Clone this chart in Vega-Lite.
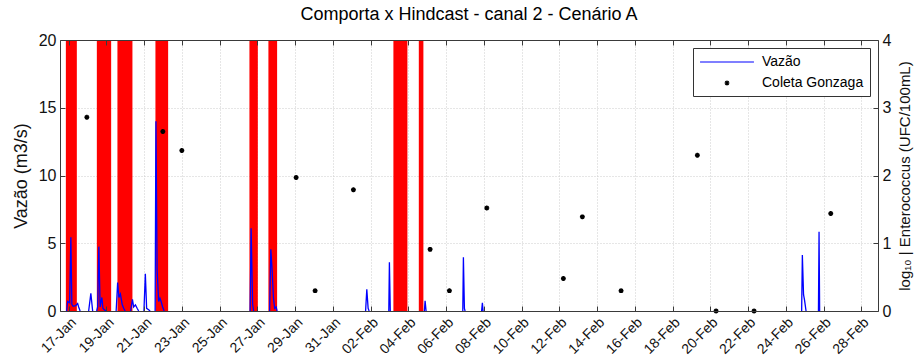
{
  "$schema": "https://vega.github.io/schema/vega-lite/v6.json",
  "width": 818,
  "height": 271,
  "autosize": {"type": "none"},
  "padding": {"left": 60, "top": 40, "right": 42, "bottom": 45},
  "background": "white",
  "title": {"text": "Comporta x Hindcast - canal 2 - Cenário A", "fontSize": 18, "fontWeight": "normal", "font": "Liberation Sans", "color": "#000000", "anchor": "middle", "offset": 8},
  "config": {
    "view": {"stroke": null},
    "font": "Liberation Sans",
    "axis": {"domainColor": "#3a3a3a", "tickColor": "#3a3a3a", "labelColor": "#111111", "titleColor": "#111111", "gridColor": "#cccccc", "gridDash": [1, 2], "tickSize": -5, "labelFont": "Liberation Sans", "titleFont": "Liberation Sans", "titleFontWeight": "normal"}
  },
  "datasets": {
    "bars": [
      {"ini": "2013-01-16T20:27", "fim": "2013-01-17T10:25"},
      {"ini": "2013-01-18T11:51", "fim": "2013-01-19T06:03"},
      {"ini": "2013-01-19T14:02", "fim": "2013-01-20T09:07"},
      {"ini": "2013-01-21T14:22", "fim": "2013-01-22T06:31"},
      {"ini": "2013-01-26T13:54", "fim": "2013-01-27T00:35"},
      {"ini": "2013-01-27T14:02", "fim": "2013-01-28T01:06"},
      {"ini": "2013-02-03T04:59", "fim": "2013-02-03T22:48"},
      {"ini": "2013-02-04T13:18", "fim": "2013-02-04T19:08"}
    ],
    "vazao": [
      {"g": 1, "t": "2013-01-16T21:27", "q": 0},
      {"g": 1, "t": "2013-01-16T22:44", "q": 0.7},
      {"g": 1, "t": "2013-01-17T01:16", "q": 0.6},
      {"g": 1, "t": "2013-01-17T02:48", "q": 5.45},
      {"g": 1, "t": "2013-01-17T04:04", "q": 0.5},
      {"g": 1, "t": "2013-01-17T05:43", "q": 0.35},
      {"g": 1, "t": "2013-01-17T08:54", "q": 0.4},
      {"g": 1, "t": "2013-01-17T11:27", "q": 0.55},
      {"g": 1, "t": "2013-01-17T12:43", "q": 0.3},
      {"g": 1, "t": "2013-01-17T14:37", "q": 0},
      {"g": 2, "t": "2013-01-18T01:26", "q": 0},
      {"g": 2, "t": "2013-01-18T04:14", "q": 1.3},
      {"g": 2, "t": "2013-01-18T06:31", "q": 0},
      {"g": 3, "t": "2013-01-18T11:36", "q": 0},
      {"g": 3, "t": "2013-01-18T12:52", "q": 0.3},
      {"g": 3, "t": "2013-01-18T14:24", "q": 4.75},
      {"g": 3, "t": "2013-01-18T16:03", "q": 0.3},
      {"g": 3, "t": "2013-01-18T18:13", "q": 1.0},
      {"g": 3, "t": "2013-01-18T19:36", "q": 0.2},
      {"g": 3, "t": "2013-01-18T21:08", "q": 0.1},
      {"g": 3, "t": "2013-01-18T23:41", "q": 0},
      {"g": 4, "t": "2013-01-19T12:24", "q": 0},
      {"g": 4, "t": "2013-01-19T14:18", "q": 2.1},
      {"g": 4, "t": "2013-01-19T15:57", "q": 1.0},
      {"g": 4, "t": "2013-01-19T17:51", "q": 1.25},
      {"g": 4, "t": "2013-01-19T20:01", "q": 0.5},
      {"g": 4, "t": "2013-01-19T21:56", "q": 0.2},
      {"g": 4, "t": "2013-01-19T23:50", "q": 0},
      {"g": 5, "t": "2013-01-20T06:50", "q": 0},
      {"g": 5, "t": "2013-01-20T09:07", "q": 0.86},
      {"g": 5, "t": "2013-01-20T10:39", "q": 0.3},
      {"g": 5, "t": "2013-01-20T12:56", "q": 0.45},
      {"g": 5, "t": "2013-01-20T15:06", "q": 0.2},
      {"g": 5, "t": "2013-01-20T17:01", "q": 0},
      {"g": 6, "t": "2013-01-20T23:44", "q": 0},
      {"g": 6, "t": "2013-01-21T01:32", "q": 2.75},
      {"g": 6, "t": "2013-01-21T03:10", "q": 0.2},
      {"g": 6, "t": "2013-01-21T05:43", "q": 0.1},
      {"g": 6, "t": "2013-01-21T07:38", "q": 0},
      {"g": 7, "t": "2013-01-21T13:59", "q": 0},
      {"g": 7, "t": "2013-01-21T15:00", "q": 14.0},
      {"g": 7, "t": "2013-01-21T16:32", "q": 3.0},
      {"g": 7, "t": "2013-01-21T18:26", "q": 0.7},
      {"g": 7, "t": "2013-01-21T20:05", "q": 0.95},
      {"g": 7, "t": "2013-01-21T21:37", "q": 0.7},
      {"g": 7, "t": "2013-01-21T23:31", "q": 0.3},
      {"g": 7, "t": "2013-01-22T01:26", "q": 0},
      {"g": 8, "t": "2013-01-26T14:47", "q": 0},
      {"g": 8, "t": "2013-01-26T16:03", "q": 6.1},
      {"g": 8, "t": "2013-01-26T17:57", "q": 0.5},
      {"g": 8, "t": "2013-01-26T19:14", "q": 0},
      {"g": 9, "t": "2013-01-27T15:34", "q": 0},
      {"g": 9, "t": "2013-01-27T17:07", "q": 4.55},
      {"g": 9, "t": "2013-01-27T18:45", "q": 3.0},
      {"g": 9, "t": "2013-01-27T20:24", "q": 1.0},
      {"g": 9, "t": "2013-01-27T21:56", "q": 0.2},
      {"g": 9, "t": "2013-01-27T23:50", "q": 0.3},
      {"g": 9, "t": "2013-01-28T01:06", "q": 0},
      {"g": 10, "t": "2013-02-01T17:38", "q": 0},
      {"g": 10, "t": "2013-02-01T19:10", "q": 1.6},
      {"g": 10, "t": "2013-02-01T20:50", "q": 0.2},
      {"g": 10, "t": "2013-02-01T22:06", "q": 0},
      {"g": 11, "t": "2013-02-02T23:08", "q": 0},
      {"g": 11, "t": "2013-02-02T23:54", "q": 3.6},
      {"g": 11, "t": "2013-02-03T01:03", "q": 0},
      {"g": 12, "t": "2013-02-04T20:24", "q": 0},
      {"g": 12, "t": "2013-02-04T21:17", "q": 0.76},
      {"g": 12, "t": "2013-02-04T22:34", "q": 0},
      {"g": 13, "t": "2013-02-06T21:14", "q": 0},
      {"g": 13, "t": "2013-02-06T22:00", "q": 3.96},
      {"g": 13, "t": "2013-02-06T23:17", "q": 0.2},
      {"g": 13, "t": "2013-02-07T00:10", "q": 0},
      {"g": 14, "t": "2013-02-07T21:08", "q": 0},
      {"g": 14, "t": "2013-02-07T22:09", "q": 0.61},
      {"g": 14, "t": "2013-02-07T23:02", "q": 0},
      {"g": 15, "t": "2013-02-24T20:10", "q": 0},
      {"g": 15, "t": "2013-02-24T21:03", "q": 4.13},
      {"g": 15, "t": "2013-02-24T22:34", "q": 1.2},
      {"g": 15, "t": "2013-02-24T23:50", "q": 0.8},
      {"g": 15, "t": "2013-02-25T01:45", "q": 0},
      {"g": 16, "t": "2013-02-25T17:31", "q": 0},
      {"g": 16, "t": "2013-02-25T18:17", "q": 5.85},
      {"g": 16, "t": "2013-02-25T19:02", "q": 0}
    ],
    "coleta": [
      {"t": "2013-01-17T23:08", "ent": 2.86, "serie": "Coleta Gonzaga"},
      {"t": "2013-01-21T23:47", "ent": 2.65, "serie": "Coleta Gonzaga"},
      {"t": "2013-01-22T23:56", "ent": 2.37, "serie": "Coleta Gonzaga"},
      {"t": "2013-01-29T01:16", "ent": 1.97, "serie": "Coleta Gonzaga"},
      {"t": "2013-01-30T01:26", "ent": 0.3, "serie": "Coleta Gonzaga"},
      {"t": "2013-02-01T02:08", "ent": 1.79, "serie": "Coleta Gonzaga"},
      {"t": "2013-02-05T03:39", "ent": 0.91, "serie": "Coleta Gonzaga"},
      {"t": "2013-02-06T04:12", "ent": 0.3, "serie": "Coleta Gonzaga"},
      {"t": "2013-02-08T03:45", "ent": 1.52, "serie": "Coleta Gonzaga"},
      {"t": "2013-02-12T05:08", "ent": 0.48, "serie": "Coleta Gonzaga"},
      {"t": "2013-02-13T05:17", "ent": 1.39, "serie": "Coleta Gonzaga"},
      {"t": "2013-02-15T06:31", "ent": 0.3, "serie": "Coleta Gonzaga"},
      {"t": "2013-02-19T07:32", "ent": 2.3, "serie": "Coleta Gonzaga"},
      {"t": "2013-02-20T07:19", "ent": 0.0, "serie": "Coleta Gonzaga"},
      {"t": "2013-02-22T07:38", "ent": 0.0, "serie": "Coleta Gonzaga"},
      {"t": "2013-02-26T09:09", "ent": 1.44, "serie": "Coleta Gonzaga"}
    ]
  },
  "layer": [
    {
      "data": {"name": "bars"},
      "mark": {"type": "rect", "color": "#ff0000", "opacity": 1},
      "encoding": {
        "x": {"field": "ini", "type": "temporal",
          "scale": {"domain": [{"year": 2013, "month": 1, "date": 16, "hours": 13}, {"year": 2013, "month": 2, "date": 28, "hours": 21, "minutes": 15}]},
          "axis": {"orient": "bottom", "title": null, "grid": false, "zindex": 1, "format": "%d-%b", "labelAngle": -45, "labelFontSize": 14, "labelPadding": 9, "labelOverlap": false,
            "values": [{"year": 2013, "month": 1, "date": 17}, {"year": 2013, "month": 1, "date": 19}, {"year": 2013, "month": 1, "date": 21}, {"year": 2013, "month": 1, "date": 23}, {"year": 2013, "month": 1, "date": 25}, {"year": 2013, "month": 1, "date": 27}, {"year": 2013, "month": 1, "date": 29}, {"year": 2013, "month": 1, "date": 31}, {"year": 2013, "month": 2, "date": 2}, {"year": 2013, "month": 2, "date": 4}, {"year": 2013, "month": 2, "date": 6}, {"year": 2013, "month": 2, "date": 8}, {"year": 2013, "month": 2, "date": 10}, {"year": 2013, "month": 2, "date": 12}, {"year": 2013, "month": 2, "date": 14}, {"year": 2013, "month": 2, "date": 16}, {"year": 2013, "month": 2, "date": 18}, {"year": 2013, "month": 2, "date": 20}, {"year": 2013, "month": 2, "date": 22}, {"year": 2013, "month": 2, "date": 24}, {"year": 2013, "month": 2, "date": 26}, {"year": 2013, "month": 2, "date": 28}]}},
        "x2": {"field": "fim"}
      }
    },
    {
      "data": {"name": "vazao"},
      "mark": {"type": "line", "color": "#0000ff", "strokeWidth": 1.3, "interpolate": "linear"},
      "encoding": {
        "x": {"field": "t", "type": "temporal",
          "axis": {"orient": "top", "title": null, "grid": false, "labels": false, "zindex": 1,
            "values": [{"year": 2013, "month": 1, "date": 17}, {"year": 2013, "month": 1, "date": 19}, {"year": 2013, "month": 1, "date": 21}, {"year": 2013, "month": 1, "date": 23}, {"year": 2013, "month": 1, "date": 25}, {"year": 2013, "month": 1, "date": 27}, {"year": 2013, "month": 1, "date": 29}, {"year": 2013, "month": 1, "date": 31}, {"year": 2013, "month": 2, "date": 2}, {"year": 2013, "month": 2, "date": 4}, {"year": 2013, "month": 2, "date": 6}, {"year": 2013, "month": 2, "date": 8}, {"year": 2013, "month": 2, "date": 10}, {"year": 2013, "month": 2, "date": 12}, {"year": 2013, "month": 2, "date": 14}, {"year": 2013, "month": 2, "date": 16}, {"year": 2013, "month": 2, "date": 18}, {"year": 2013, "month": 2, "date": 20}, {"year": 2013, "month": 2, "date": 22}, {"year": 2013, "month": 2, "date": 24}, {"year": 2013, "month": 2, "date": 26}, {"year": 2013, "month": 2, "date": 28}]}},
        "y": {"field": "q", "type": "quantitative", "scale": {"domain": [0, 20], "nice": false, "zero": true},
          "axis": {"orient": "left", "title": "Vazão (m3/s)", "titleFontSize": 18, "titlePadding": 8, "labelFontSize": 16, "labelPadding": 9, "values": [0, 5, 10, 15, 20], "grid": true, "zindex": 0}},
        "detail": {"field": "g", "type": "nominal"}
      }
    },
    {
      "data": {"name": "coleta"},
      "mark": {"type": "point", "filled": false, "size": 196, "strokeWidth": 1.5, "opacity": 1},
      "encoding": {
        "x": {"field": "t", "type": "temporal",
          "axis": {"orient": "bottom", "title": null, "grid": true, "labels": false, "ticks": false, "domain": false, "zindex": 0,
            "values": [{"year": 2013, "month": 1, "date": 17}, {"year": 2013, "month": 1, "date": 19}, {"year": 2013, "month": 1, "date": 21}, {"year": 2013, "month": 1, "date": 23}, {"year": 2013, "month": 1, "date": 25}, {"year": 2013, "month": 1, "date": 27}, {"year": 2013, "month": 1, "date": 29}, {"year": 2013, "month": 1, "date": 31}, {"year": 2013, "month": 2, "date": 2}, {"year": 2013, "month": 2, "date": 4}, {"year": 2013, "month": 2, "date": 6}, {"year": 2013, "month": 2, "date": 8}, {"year": 2013, "month": 2, "date": 10}, {"year": 2013, "month": 2, "date": 12}, {"year": 2013, "month": 2, "date": 14}, {"year": 2013, "month": 2, "date": 16}, {"year": 2013, "month": 2, "date": 18}, {"year": 2013, "month": 2, "date": 20}, {"year": 2013, "month": 2, "date": 22}, {"year": 2013, "month": 2, "date": 24}, {"year": 2013, "month": 2, "date": 26}, {"year": 2013, "month": 2, "date": 28}]}},
        "y": {"field": "ent", "type": "quantitative", "scale": {"domain": [0, 4], "nice": false},
          "axis": {"orient": "right", "title": "log₁₀ | Enterococcus (UFC/100mL)", "titleAngle": 270, "titleFontSize": 15, "titlePadding": 22, "labelFontSize": 16, "labelPadding": 9, "values": [0, 1, 2, 3, 4], "grid": false, "zindex": 1}},
        "color": {"field": "serie", "type": "nominal",
          "scale": {"domain": ["Vazão", "Coleta Gonzaga"], "range": ["#0000ff", "#000000"]},
          "legend": {"title": null, "orient": "top-right", "offset": 8, "labelFontSize": 14, "labelFont": "Liberation Sans", "labelColor": "#000000", "symbolSize": 196, "symbolStrokeWidth": 1.2, "symbolOffset": 20, "labelOffset": 27, "strokeColor": "#333333", "fillColor": "#ffffff", "padding": 6, "rowPadding": 6, "cornerRadius": 0}},
        "shape": {"field": "serie", "type": "nominal",
          "scale": {"domain": ["Vazão", "Coleta Gonzaga"], "range": ["M-3.85,0L3.85,0", "M-0.35,0L0.35,0M0,-0.35L0,0.35M-0.25,-0.25L0.25,0.25M-0.25,0.25L0.25,-0.25"]},
          "legend": {"title": null, "orient": "top-right", "offset": 8, "labelFontSize": 14, "labelFont": "Liberation Sans", "labelColor": "#000000", "symbolSize": 196, "symbolStrokeWidth": 1.2, "symbolOffset": 20, "labelOffset": 27, "strokeColor": "#333333", "fillColor": "#ffffff", "padding": 6, "rowPadding": 6, "cornerRadius": 0}}
      }
    }
  ],
  "resolve": {"scale": {"y": "independent"}, "axis": {"x": "independent"}}
}
